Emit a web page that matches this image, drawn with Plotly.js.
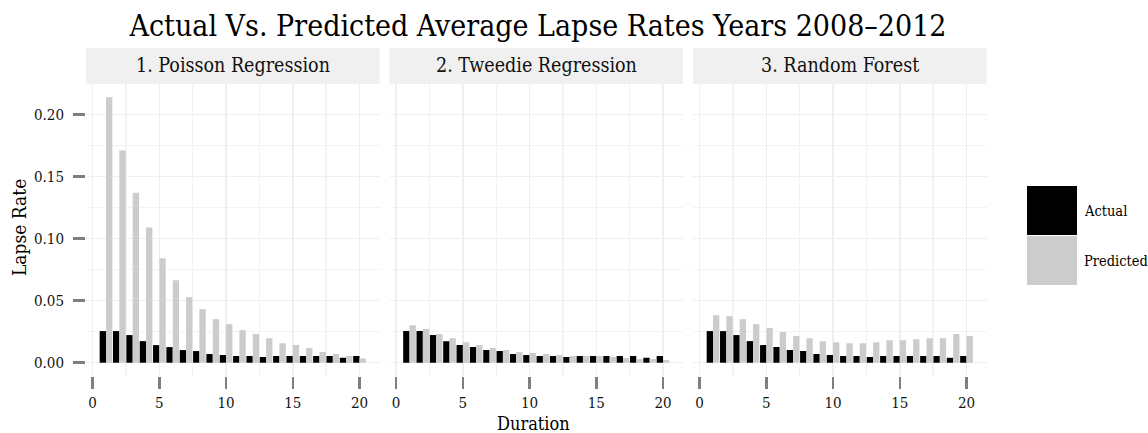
<!DOCTYPE html>
<html>
<head>
<meta charset="utf-8">
<script src="https://cdn.plot.ly/plotly-3.0.1.min.js"></script>
<style>html,body{margin:0;padding:0;background:#fff;}#chart{width:1148px;height:433px;}</style>
</head>
<body>
<div id="chart"></div>
<script>
// ---- data ----
const durations = [1,2,3,4,5,6,7,8,9,10,11,12,13,14,15,16,17,18,19,20];
const panels = ["1. Poisson Regression", "2. Tweedie Regression", "3. Random Forest"];
const seriesNames = ["Actual", "Predicted"];
const actual = [0.0255,0.0255,0.0223,0.0174,0.0142,0.0126,0.0102,0.0094,0.0070,0.0062,0.0054,0.0054,0.0046,0.0054,0.0054,0.0054,0.0054,0.0054,0.0040,0.0054];
const predPoisson = [0.214,0.171,0.137,0.109,0.0842,0.0665,0.0528,0.0432,0.0351,0.0311,0.0263,0.0231,0.0198,0.0158,0.0142,0.0118,0.0086,0.0070,0.0054,0.0035];
const predTweedie = [0.0303,0.0271,0.0231,0.0198,0.0166,0.0142,0.0118,0.0102,0.0086,0.0078,0.0070,0.0062,0.0054,0.0054,0.0054,0.0046,0.0038,0.0030,0.0030,0.0022];
const predForest = [0.0383,0.0375,0.0351,0.0311,0.0279,0.0247,0.0215,0.0198,0.0174,0.0166,0.0158,0.0158,0.0166,0.0182,0.0182,0.0190,0.0198,0.0198,0.0231,0.0215];
const xTicks = [0,5,10,15,20];
const yTicks = [0,0.05,0.10,0.15,0.20];
const yTickText = ["0.00","0.05","0.10","0.15","0.20"];

// ---- styling ----
const W = 1148, H = 433;
const FONT = "DejaVu Serif Condensed, DejaVu Serif, serif";
const colors = ["#000000", "#cccccc"];
const panelX = [[86,379.5],[389.5,683],[693,986.5]];
const panelTop = 84, panelBottom = 376, stripTop = 48;
const px = v => v / W;
const py = v => (H - v) / H;

const predicted = [predPoisson, predTweedie, predForest];
const traces = [];
panels.forEach((p, i) => {
  const xa = i === 0 ? "x" : "x" + (i + 1);
  const ya = i === 0 ? "y" : "y" + (i + 1);
  [actual, predicted[i]].forEach((vals, s) => {
    traces.push({
      type: "bar", x: durations, y: vals, name: seriesNames[s],
      xaxis: xa, yaxis: ya, marker: {color: colors[s], line: {width: 0}},
      showlegend: false, offsetgroup: String(s)
    });
  });
});

const layout = {
  width: W, height: H,
  margin: {l: 0, r: 0, t: 0, b: 0},
  paper_bgcolor: "#ffffff", plot_bgcolor: "#ffffff",
  font: {family: FONT, color: "#111"},
  barmode: "group", bargap: 0.05, bargroupgap: 0,
  title: {text: "Actual Vs. Predicted Average Lapse Rates Years 2008\u20132012",
          x: px(538), xanchor: "center", xref: "paper", y: py(25), yanchor: "middle",
          font: {family: FONT, size: 30, color: "#000"}},
  shapes: [], annotations: []
};

const yCommon = {
  range: [-0.0107, 0.2247], domain: [py(panelBottom), py(panelTop)],
  tickvals: yTicks, ticktext: yTickText,
  showgrid: true, gridcolor: "#efefef", gridwidth: 1.5,
  minor: {dtick: 0.025, tick0: 0.025, showgrid: true, gridcolor: "#f3f3f3", gridwidth: 1.3, ticks: ""},
  zeroline: false, showline: false, fixedrange: true
};
panels.forEach((p, i) => {
  const xk = i === 0 ? "xaxis" : "xaxis" + (i + 1);
  const yk = i === 0 ? "yaxis" : "yaxis" + (i + 1);
  const yid = i === 0 ? "y" : "y" + (i + 1);
  const xid = i === 0 ? "x" : "x" + (i + 1);
  layout[xk] = {
    domain: [px(panelX[i][0]), px(panelX[i][1])], anchor: yid,
    range: [-0.5, 21.5], tickvals: xTicks, ticktext: xTicks.map(String),
    ticks: "outside", ticklen: 12, tickwidth: 2.5, tickcolor: "#7f7f7f",
    ticklabelstandoff: 1,
    tickfont: {family: FONT, size: 15, color: "#111"},
    showgrid: true, gridcolor: "#efefef", gridwidth: 1.5,
    minor: {dtick: 5, tick0: 2.5, showgrid: true, gridcolor: "#f3f3f3", gridwidth: 1.3, ticks: ""},
    zeroline: false, showline: false, fixedrange: true
  };
  layout[yk] = Object.assign({}, yCommon, {
    anchor: xid,
    ticks: i === 0 ? "outside" : "",
    ticklen: 12, tickwidth: 2.5, tickcolor: "#7f7f7f",
    showticklabels: i === 0,
    ticklabelstandoff: 6,
    tickfont: {family: FONT, size: 15, color: "#111"}
  });
  if (i > 0) layout[yk].matches = "y";
  // facet strip
  layout.shapes.push({type: "rect", xref: "paper", yref: "paper",
    x0: px(panelX[i][0]), x1: px(panelX[i][1]), y0: py(panelTop), y1: py(stripTop),
    fillcolor: "#f0f0f0", line: {width: 0}, layer: "below"});
  layout.annotations.push({xref: "paper", yref: "paper",
    x: px((panelX[i][0] + panelX[i][1]) / 2), y: py((panelTop + stripTop) / 2),
    xanchor: "center", yanchor: "middle", showarrow: false, text: p,
    font: {family: FONT, size: 19.5, color: "#111"}});
});

// axis titles
layout.annotations.push({xref: "paper", yref: "paper", x: px(533), y: py(423),
  xanchor: "center", yanchor: "middle", showarrow: false, text: "Duration",
  font: {family: FONT, size: 18, color: "#000"}});
layout.annotations.push({xref: "paper", yref: "paper", x: px(19), y: py(228),
  xanchor: "center", yanchor: "middle", showarrow: false, text: "Lapse Rate", textangle: -90,
  font: {family: FONT, size: 19, color: "#000"}});

// legend (drawn)
const legTop = 186, keyH = 50, keyX0 = 1027, keyX1 = 1077;
seriesNames.forEach((n, s) => {
  const t = legTop + s * keyH;
  layout.shapes.push({type: "rect", xref: "paper", yref: "paper",
    x0: px(keyX0), x1: px(keyX1), y0: py(t + keyH - 1), y1: py(t),
    fillcolor: colors[s], line: {width: 0}});
  layout.annotations.push({xref: "paper", yref: "paper", x: px(keyX1 + 5), y: py(t + keyH / 2),
    xanchor: "left", yanchor: "middle", showarrow: false, text: n,
    font: {family: FONT, size: 14.5, color: "#000"}});
});

Plotly.newPlot("chart", traces, layout, {displayModeBar: false, staticPlot: true});
</script>
</body>
</html>
